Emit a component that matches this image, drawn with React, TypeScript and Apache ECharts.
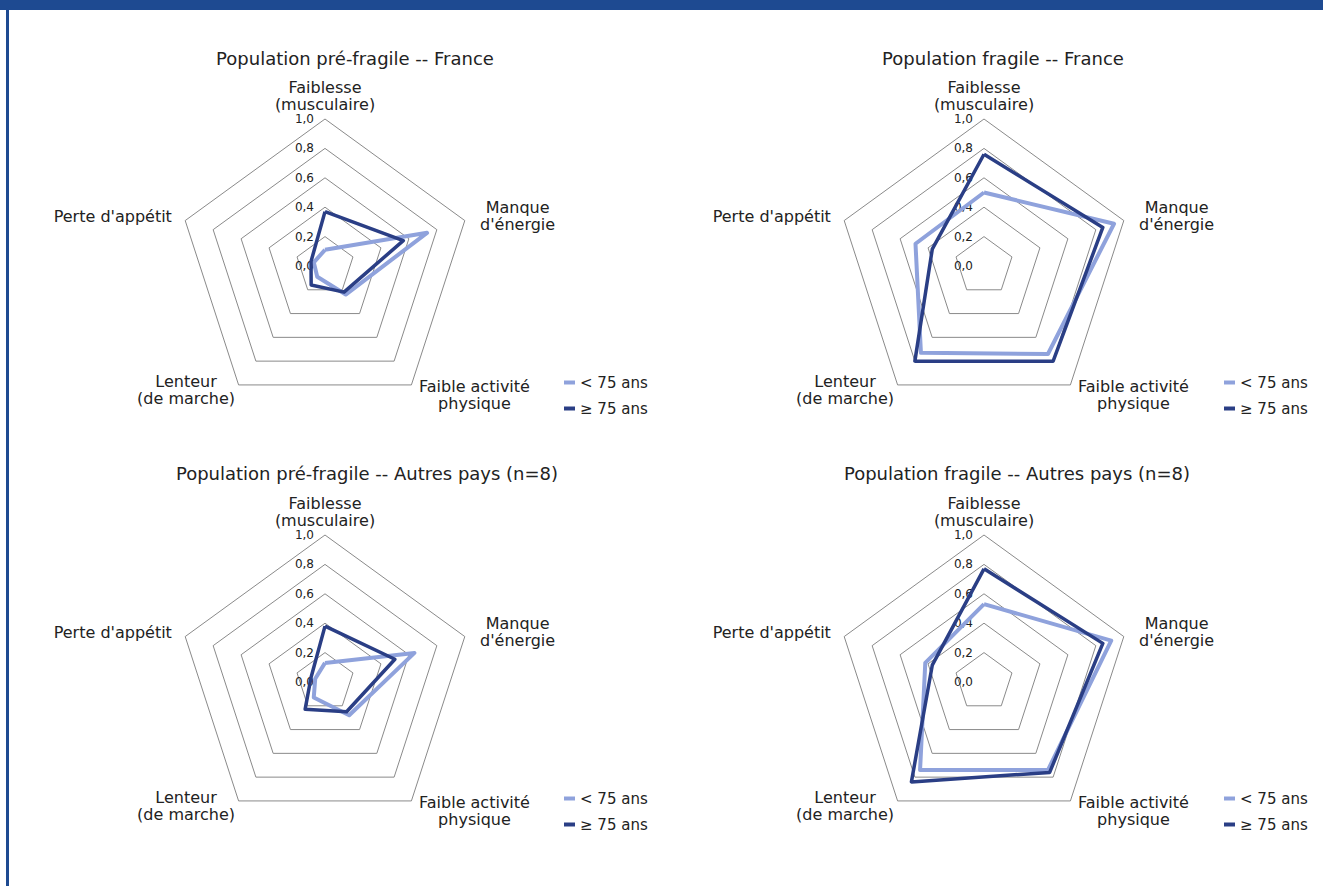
import React, { useEffect, useRef } from "react";
import * as echarts from "echarts";

// Indicator order follows ECharts' counter-clockwise layout starting at the top
const indicatorNames = [
  "Faiblesse\n(musculaire)",
  "Perte d'appétit",
  "Lenteur\n(de marche)",
  "Faible activité\nphysique",
  "Manque\nd'énergie",
];
const indicatorGaps = [4, 14, 6, 13, 16];

const seriesNames = ["< 75 ans", "≥ 75 ans"];

const chartTitles = [
  "Population pré-fragile -- France",
  "Population fragile -- France",
  "Population pré-fragile -- Autres pays (n=8)",
  "Population fragile -- Autres pays (n=8)",
];

// values in indicator order: Faiblesse, Perte d'appétit, Lenteur, Faible activité, Manque d'énergie
const preFragileFranceYoung = [0.11, 0.08, 0.09, 0.24, 0.73];
const preFragileFranceOld = [0.37, 0.1, 0.16, 0.22, 0.56];
const fragileFranceYoung = [0.5, 0.49, 0.73, 0.74, 0.93];
const fragileFranceOld = [0.76, 0.37, 0.8, 0.8, 0.85];
const preFragileOtherYoung = [0.13, 0.07, 0.13, 0.28, 0.64];
const preFragileOtherOld = [0.38, 0.1, 0.23, 0.25, 0.5];
const fragileOtherYoung = [0.53, 0.42, 0.74, 0.74, 0.91];
const fragileOtherOld = [0.77, 0.37, 0.84, 0.76, 0.85];

const youngData = [preFragileFranceYoung, fragileFranceYoung, preFragileOtherYoung, fragileOtherYoung];
const oldData = [preFragileFranceOld, fragileFranceOld, preFragileOtherOld, fragileOtherOld];

const LIGHT = "#8FA2DC";
const DARK = "#2A3E85";
const FONT = "DejaVu Sans";

const centers = [
  [325, 266],
  [984, 266],
  [325, 682],
  [984, 682],
];
const titleCenters = [
  [355, 49],
  [1003, 49],
  [367, 464],
  [1017, 464],
];
const legendPos = [
  [559, 370],
  [1219, 370],
  [559, 786],
  [1219, 786],
];

export default function App() {
  const ref = useRef<HTMLDivElement>(null);

  useEffect(() => {
    document.body.style.margin = "0";
    if (!ref.current) return;
    const chart = echarts.init(ref.current, null, { renderer: "svg" });

    const radar = centers.map((c) => ({
      center: c,
      radius: 147,
      startAngle: 90,
      splitNumber: 5,
      shape: "polygon",
      indicator: indicatorNames.map((n, i) =>
        i === 0
          ? {
              name: n,
              min: 0,
              max: 1,
              nameGap: indicatorGaps[i],
              axisLabel: {
                show: true,
                fontFamily: FONT,
                fontSize: 12,
                color: "#222",
                margin: 11,
                formatter: (v: number) => v.toFixed(1).replace(".", ","),
              },
            }
          : { name: n, min: 0, max: 1, nameGap: indicatorGaps[i] }
      ),
      axisName: {
        color: "#222",
        fontFamily: FONT,
        fontSize: 16,
        lineHeight: 17,
        formatter: (n: string) =>
          n
            .split("\n")
            .map((l) => `{c|${l}}`)
            .join("\n"),
        rich: {
          c: { align: "center", fontFamily: FONT, fontSize: 16, lineHeight: 17, color: "#222" },
        },
      },
      axisLine: { show: false },
      axisTick: { show: false },
      axisLabel: { show: false },
      splitLine: { lineStyle: { color: "#8A8A8A", width: 1 } },
      splitArea: { show: false },
    }));

    const series = centers.map((_, k) => ({
      type: "radar",
      radarIndex: k,
      symbol: "none",
      data: [
        {
          name: seriesNames[0],
          value: youngData[k],
          lineStyle: { color: LIGHT, width: 4 },
          itemStyle: { color: LIGHT },
        },
        {
          name: seriesNames[1],
          value: oldData[k],
          lineStyle: { color: DARK, width: 3.5 },
          itemStyle: { color: DARK },
        },
      ],
    }));

    chart.setOption({
      animation: false,
      title: chartTitles.map((t, k) => ({
        text: t,
        left: titleCenters[k][0],
        top: titleCenters[k][1],
        textAlign: "center",
        padding: 0,
        textStyle: { fontFamily: FONT, fontSize: 18, fontWeight: "normal", color: "#222" },
      })),
      legend: legendPos.map((p) => ({
        data: seriesNames,
        orient: "vertical",
        left: p[0],
        top: p[1],
        icon: "rect",
        itemWidth: 11,
        itemHeight: 4,
        itemGap: 11,
        selectedMode: false,
        textStyle: { fontFamily: FONT, fontSize: 15, color: "#222" },
      })),
      radar,
      series,
    });

    return () => chart.dispose();
  }, []);

  return (
    <div style={{ position: "relative", width: 1323, height: 886, background: "#fff", overflow: "hidden" }}>
      <div style={{ position: "absolute", left: 0, top: 0, width: 1323, height: 10, background: "#1E4A91" }} />
      <div style={{ position: "absolute", left: 6, top: 0, width: 3, height: 886, background: "#1E4A91" }} />
      <div ref={ref} style={{ position: "absolute", left: 0, top: 0, width: 1323, height: 886 }} />
    </div>
  );
}
